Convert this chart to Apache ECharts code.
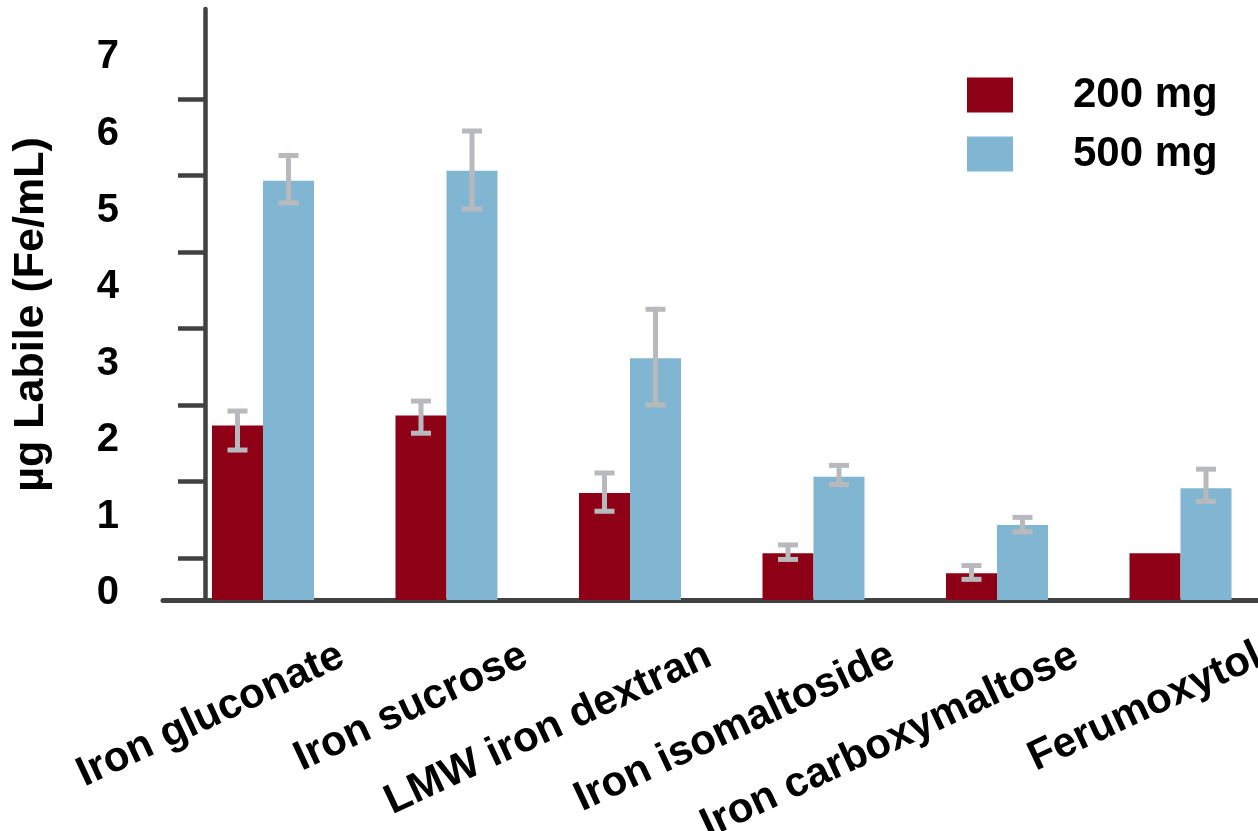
<!DOCTYPE html>
<html>
<head>
<meta charset="utf-8">
<script src="https://cdn.jsdelivr.net/npm/echarts@6/dist/echarts.min.js"></script>
<style>
  html, body { margin: 0; padding: 0; background: #ffffff; }
  #chart { width: 1258px; height: 831px; }
</style>
</head>
<body>
<div id="chart"></div>
<script>
// ---------- data ----------
const categories = ['Iron gluconate', 'Iron sucrose', 'LMW iron dextran', 'Iron isomaltoside', 'Iron carboxymaltose', 'Ferumoxytol'];
const seriesNames = ['200 mg', '500 mg'];
const values200 = [2.28, 2.41, 1.40, 0.61, 0.35, 0.61];
const values500 = [5.48, 5.61, 3.16, 1.61, 0.98, 1.46];
const errHigh200 = [2.47, 2.60, 1.66, 0.72, 0.45, null];
const errLow200  = [1.96, 2.18, 1.16, 0.53, 0.27, null];
const errHigh500 = [5.81, 6.13, 3.80, 1.76, 1.08, 1.71];
const errLow500  = [5.19, 5.11, 2.55, 1.51, 0.89, 1.29];
const yTickLabels = [0, 1, 2, 3, 4, 5, 6, 7];
const yTickMarks = [0.55, 1.55, 2.55, 3.55, 4.55, 5.55, 6.55];
const yMax = 7.725;

// ---------- styles ----------
const RED = '#8E0016';
const BLUE = '#80B6D2';
const ERR = '#B8B9BD';
const AXIS = '#414141';
const FONT = '"Liberation Sans", Arial, Helvetica, sans-serif';
const BAR_W = 51;

function errData(hi, lo) {
  const out = [];
  for (let i = 0; i < hi.length; i++) {
    if (hi[i] != null && lo[i] != null) out.push([i, hi[i], lo[i]]);
  }
  return out;
}

function errRender(shift) {
  return function (params, api) {
    const i = api.value(0);
    const pHi = api.coord([i, api.value(1)]);
    const pLo = api.coord([i, api.value(2)]);
    const x = pHi[0] + shift;
    const capHalf = 10;
    const style = { stroke: ERR, lineWidth: 5, fill: null };
    return {
      type: 'group',
      children: [
        { type: 'line', shape: { x1: x, y1: pHi[1], x2: x, y2: pLo[1] }, style: style },
        { type: 'line', shape: { x1: x - capHalf, y1: pHi[1], x2: x + capHalf, y2: pHi[1] }, style: style },
        { type: 'line', shape: { x1: x - capHalf, y1: pLo[1], x2: x + capHalf, y2: pLo[1] }, style: style }
      ]
    };
  };
}

const chart = echarts.init(document.getElementById('chart'), null, { renderer: 'canvas' });

const gridTop = 9, gridBottom = 231;
const gridCommon = { top: gridTop, bottom: gridBottom, containLabel: false, outerBoundsMode: 'none' };

const option = {
  animation: false,
  backgroundColor: '#ffffff',
  textStyle: { fontFamily: FONT },
  grid: [
    Object.assign({ left: 171.25, right: -14.25 }, gridCommon),   // data
    Object.assign({ left: 163, right: 0 }, gridCommon),           // x axis line
    Object.assign({ left: 205, right: 0 }, gridCommon),           // y axis
    Object.assign({ left: 250, right: -93 }, gridCommon)          // category labels
  ],
  legend: {
    data: seriesNames,
    orient: 'vertical',
    left: 967,
    top: 74,
    padding: 0,
    itemWidth: 46,
    itemHeight: 35,
    itemGap: 17,
    icon: 'rect',
    selectedMode: false,
    textStyle: {
      fontFamily: FONT, fontWeight: 'bold', fontSize: 42, color: '#000',
      lineHeight: 35, padding: [0, 0, 4, 55]
    }
  },
  xAxis: [
    {
      type: 'category', gridIndex: 0, data: categories,
      axisLine: { show: false }, axisTick: { show: false }, axisLabel: { show: false }
    },
    {
      type: 'value', gridIndex: 1, min: 0, max: 1,
      axisLine: { show: true, lineStyle: { color: AXIS, width: 5 } },
      axisTick: { show: false }, axisLabel: { show: false }, splitLine: { show: false }
    },
    {
      type: 'value', gridIndex: 2, min: 0, max: 1, show: false
    },
    {
      type: 'category', gridIndex: 3, data: categories,
      axisLine: { show: false }, axisTick: { show: false }, splitLine: { show: false },
      axisLabel: {
        show: true, interval: 0, rotate: 25, margin: 54,
        fontFamily: FONT, fontWeight: 'bold', fontSize: 42, color: '#000'
      }
    }
  ],
  yAxis: [
    { type: 'value', gridIndex: 0, min: 0, max: yMax, show: false },
    { type: 'value', gridIndex: 1, min: 0, max: yMax, show: false },
    {
      type: 'value', gridIndex: 2, min: 0, max: yMax,
      name: 'µg Labile (Fe/mL)',
      nameLocation: 'middle',
      nameRotate: 90,
      nameGap: 152,
      nameTextStyle: { fontFamily: FONT, fontWeight: 'bold', fontSize: 43, color: '#000', padding: [0, 20, 0, 0] },
      axisLine: { show: true, lineStyle: { color: AXIS, width: 4.5 } },
      axisTick: { show: true, inside: false, length: 27, lineStyle: { color: AXIS, width: 4.5 }, customValues: yTickMarks },
      axisLabel: {
        show: true, margin: 86, customValues: yTickLabels,
        fontFamily: FONT, fontWeight: 'bold', fontSize: 40, color: '#000',
        verticalAlign: 'bottom', lineHeight: 14,
        formatter: function (v) { return String(Math.round(v)); }
      },
      splitLine: { show: false }
    },
    { type: 'value', gridIndex: 3, min: 0, max: yMax, show: false }
  ],
  series: [
    {
      name: seriesNames[0], type: 'bar', xAxisIndex: 0, yAxisIndex: 0,
      data: values200, barWidth: BAR_W, barGap: '0%',
      itemStyle: { color: RED }
    },
    {
      name: seriesNames[1], type: 'bar', xAxisIndex: 0, yAxisIndex: 0,
      data: values500, barWidth: BAR_W, barGap: '0%',
      itemStyle: { color: BLUE }
    },
    {
      name: 'err200', type: 'custom', xAxisIndex: 0, yAxisIndex: 0,
      data: errData(errHigh200, errLow200), renderItem: errRender(-BAR_W / 2), z: 5,
      encode: { x: 0, y: [1, 2] }
    },
    {
      name: 'err500', type: 'custom', xAxisIndex: 0, yAxisIndex: 0,
      data: errData(errHigh500, errLow500), renderItem: errRender(BAR_W / 2), z: 5,
      encode: { x: 0, y: [1, 2] }
    }
  ]
};

chart.setOption(option);
</script>
</body>
</html>
